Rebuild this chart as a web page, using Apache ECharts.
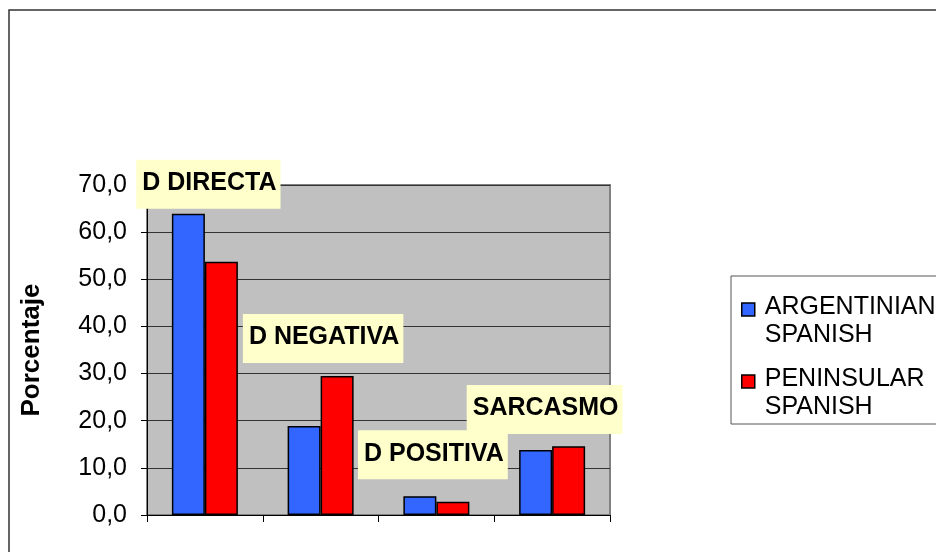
<!DOCTYPE html>
<html><head><meta charset="utf-8">
<script src="https://cdn.jsdelivr.net/npm/echarts@6/dist/echarts.min.js"></script>
<style>html,body{margin:0;padding:0;background:#fff}#c{width:936px;height:552px}</style>
</head><body><div id="c"></div>
<script>
const categories = ['D DIRECTA', 'D NEGATIVA', 'D POSITIVA', 'SARCASMO'];
const argentinian = [63.9, 18.9, 4.0, 13.8];
const peninsular = [53.7, 29.5, 2.8, 14.6];
const seriesNames = ['ARGENTINIAN\nSPANISH', 'PENINSULAR\nSPANISH'];
const yTicks = { min: 0, max: 70, interval: 10 };
// label box offsets relative to top of blue bar (layout only)
const labelOffsets = [[20, -5], [19, -63], [13, -17], [9, -16]];

const chart = echarts.init(document.getElementById('c'), null, { renderer: 'canvas' });
const F = 'Liberation Sans, Arial, sans-serif';
// legend icon: 13px square at the top of a taller box, so it aligns with first text line
const legendIcon = 'path://M0,0L13,0L13,13L0,13Z M18,36Z';
chart.setOption({
  animation: false,
  graphic: [{
    type: 'rect', shape: { x: 9, y: 10, width: 1000, height: 1000 },
    style: { fill: 'none', stroke: '#333', lineWidth: 1.5 }, silent: true, z: -10
  }],
  grid: { left: 147, top: 185, width: 463, height: 330, show: true,
          backgroundColor: '#C0C0C0', borderColor: '#808080', borderWidth: 2 },
  legend: {
    orient: 'vertical', left: 731, top: 276, itemWidth: 18, itemHeight: 36, itemGap: 16,
    padding: [17, 40, 3, 10], borderColor: '#555', borderWidth: 1, backgroundColor: '#fff',
    textStyle: { fontFamily: F, fontSize: 25, color: '#000', lineHeight: 28 },
    icon: legendIcon,
    data: seriesNames.map(n => ({ name: n, itemStyle: { borderColor: '#000', borderWidth: 1.5 } }))
  },
  xAxis: {
    type: 'category', data: categories,
    axisLine: { lineStyle: { color: '#000', width: 1 } },
    axisTick: { show: true, length: 7, lineStyle: { color: '#000' } },
    axisLabel: { show: false }, splitLine: { show: false }
  },
  yAxis: {
    type: 'value', min: yTicks.min, max: yTicks.max, interval: yTicks.interval,
    name: 'Porcentaje', nameLocation: 'middle', nameGap: 102, nameRotate: 90,
    nameTextStyle: { fontFamily: F, fontSize: 26, fontWeight: 'bold', color: '#000' },
    axisLine: { show: true, lineStyle: { color: '#000' } },
    axisTick: { show: true, length: 6, lineStyle: { color: '#000' } },
    axisLabel: { fontFamily: F, fontSize: 25, color: '#000', margin: 20,
                 formatter: v => v.toFixed(1).replace('.', ',') },
    splitLine: { show: true, lineStyle: { color: '#333', width: 1.2 } }
  },
  series: [
    {
      name: seriesNames[0], type: 'bar', barWidth: 33, barGap: '0%',
      itemStyle: { color: '#3366FF', borderColor: '#000', borderWidth: 1.5 },
      data: argentinian.map((v, i) => ({
        value: v,
        label: {
          show: true, position: 'top', distance: 0, offset: labelOffsets[i],
          formatter: categories[i], fontFamily: F, fontSize: 25, fontWeight: 'bold',
          lineHeight: 25, color: '#000', backgroundColor: '#FFFFCC', padding: [11, 4, 13, 6]
        }
      })),
      z: 2
    },
    {
      name: seriesNames[1], type: 'bar', barWidth: 33,
      itemStyle: { color: '#FF0000', borderColor: '#000', borderWidth: 1.5 },
      data: peninsular, z: 1
    }
  ]
});
</script></body></html>
